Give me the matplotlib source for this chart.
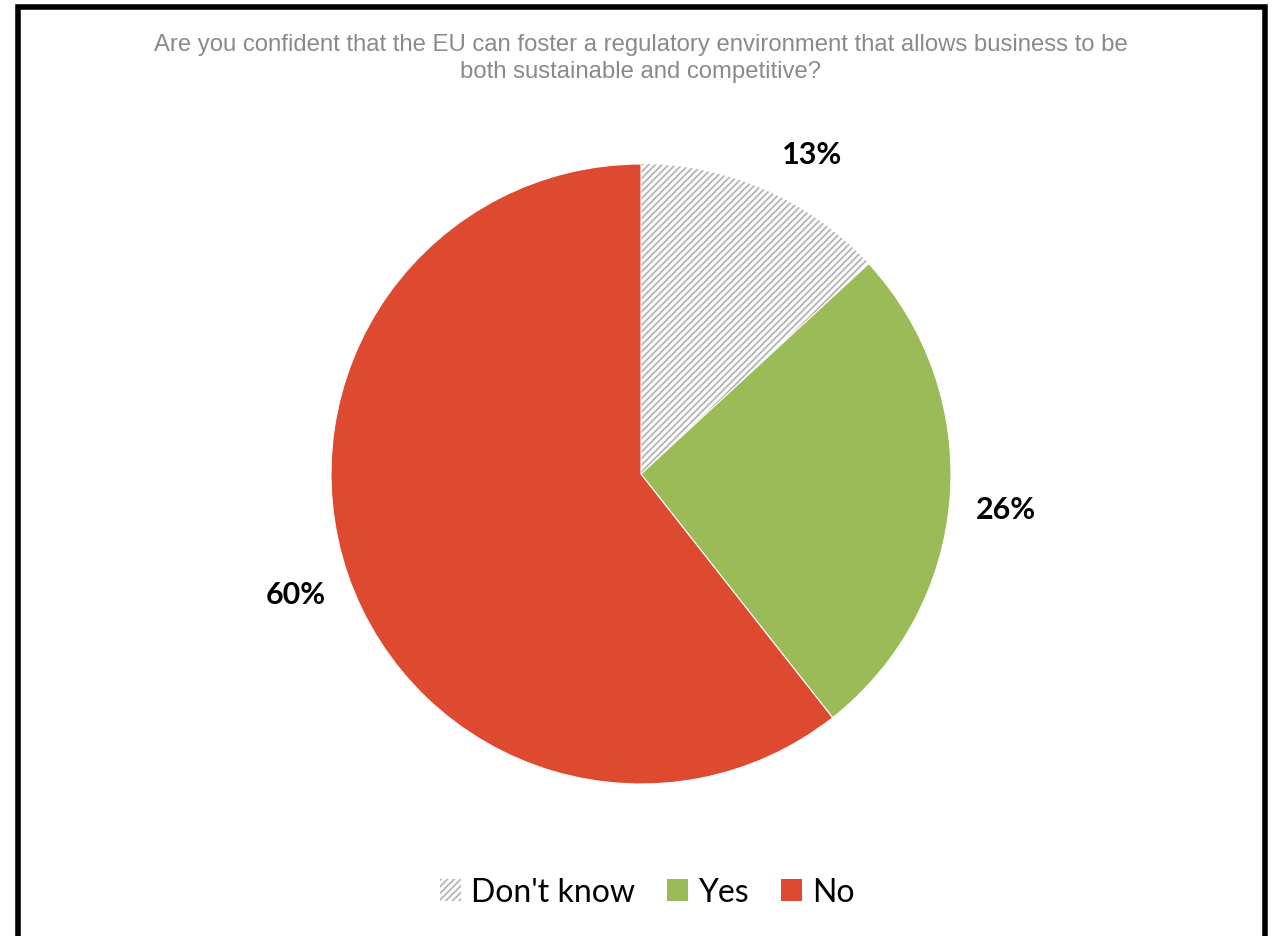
import matplotlib
matplotlib.use("Agg")
import matplotlib.pyplot as plt
from matplotlib.patches import Rectangle, Patch

# Survey answers (percent), clockwise from 12 o'clock
labels = ["Don't know", "Yes", "No"]
values = [13, 26, 60]
colors = ["white", "#9BBB59", "#DE4A2F"]
hatches = ["/////", None, None]
hatch_grey = "#b4b4b4"

title = ("Are you confident that the EU can foster a regulatory environment that allows business to be\n"
         "both sustainable and competitive?")

plt.rcParams["hatch.linewidth"] = 1.3

W, H = 1273, 937
fig = plt.figure(figsize=(W / 100, H / 100), dpi=100)
fig.patch.set_facecolor("white")

# pie axes: centre (641, 475) px, radius 310 px
cx, cy, r = 641, 475, 310
ax = fig.add_axes([(cx - r) / W, (H - cy - r) / H, 2 * r / W, 2 * r / H])

wedges, _, autotexts = ax.pie(
    values, colors=colors, startangle=90, counterclock=False,
    autopct="%.0f%%", pctdistance=1.18,
    wedgeprops=dict(edgecolor="white", linewidth=0.8),
    textprops=dict(fontsize=22, fontweight="bold", family=["Lato", "DejaVu Sans"], color="black"),
)
for w, h in zip(wedges, hatches):
    if h:
        w.set_hatch(h)
        w.set_edgecolor(hatch_grey)  # hatch takes the edge colour
        w.set_linewidth(0)
# show the rounded survey values, nudge the small-slice label like Excel's best fit
for t, v in zip(autotexts, values):
    t.set_text(f"{v}%")
x0, y0 = autotexts[0].get_position()
autotexts[0].set_position((x0 + 0.08, y0 - 0.05))
x1, y1 = autotexts[1].get_position()
autotexts[1].set_position((x1, y1 - 0.02))
ax.set_xlim(-1, 1)
ax.set_ylim(-1, 1)
ax.set_aspect("equal")
ax.axis("off")

fig.text(cx / W, 1 - 34 / H, title, ha="center", va="top", fontsize=17.2,
         color="#8a8a8a", family=["Liberation Sans", "DejaVu Sans"],
         linespacing=1.3)

handles = [Patch(facecolor=c, hatch=h, edgecolor=hatch_grey if h else c, linewidth=0)
           for c, h in zip(colors, hatches)]
fig.legend(handles, labels, loc="center", bbox_to_anchor=(647 / W, 1 - 893 / H),
           ncol=3, frameon=False, handlelength=0.66, handleheight=0.66,
           handletextpad=0.32, columnspacing=1.0,
           prop=dict(family=["Lato", "DejaVu Sans"], size=23))

# black frame, bottom edge runs off the image
fig.patches.append(Rectangle((17.5 / W, -0.05), (1265 - 17.5) / W, (H - 7.5) / H + 0.05,
                             transform=fig.transFigure, fill=False, edgecolor="black",
                             linewidth=4))

fig.savefig("out.png", dpi=100)
